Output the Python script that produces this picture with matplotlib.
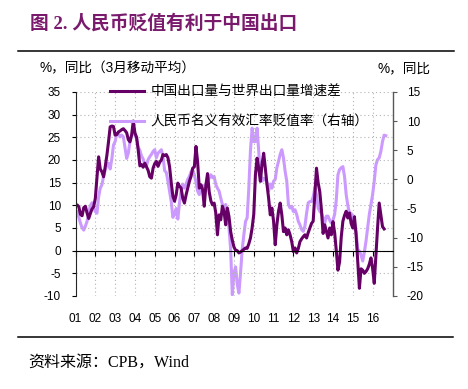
"""Figure 2 - RMB depreciation vs China export growth gap"""
import matplotlib
matplotlib.use('Agg')
import matplotlib.pyplot as plt
from matplotlib.lines import Line2D
import numpy as np

plt.rcParams['font.family'] = ['Liberation Sans', 'Noto Sans CJK SC']
plt.rcParams['axes.unicode_minus'] = False

DARK = '#660066'; LIGHT = '#CC99FF'; TITLE = '#7A1A6C'
GRID = '#B3B3B3'

# ── data (monthly, from Jan 2001) ─────────────────────────────────────────
# China export volume growth minus world export volume growth, 3m avg (left axis)
export_gap = [
    9.8, 10.1, 9.7, 8.0, 7.7, 9.5, 9.8, 8.3, 7.1, 8.2, 9.2, 9.7,            # 2001
    11.5, 16.0, 20.7, 18.0, 17.4, 16.3, 18.5, 21.0, 24.0, 27.3, 27.5, 27.4,  # 2002
    25.5, 25.6, 26.2, 26.4, 26.7, 26.9, 26.5, 26.0, 24.5, 24.0, 25.5, 28.6,  # 2003
    26.0, 25.0, 22.2, 18.7, 19.0, 18.4, 19.3, 18.5, 17.7, 16.3, 16.0, 18.2,  # 2004
    19.2, 19.7, 18.6, 19.5, 20.0, 21.2, 21.0, 21.2, 20.5, 18.5, 15.0, 12.0,  # 2005
    10.9, 12.3, 14.9, 14.2, 13.8, 11.5, 10.5, 12.3, 13.8, 15.3, 16.4, 18.2,  # 2006
    18.5, 23.0, 19.5, 13.8, 14.5, 13.5, 9.8, 14.5, 17.0, 13.0, 11.0, 10.1,   # 2007
    10.5, 8.3, 3.5, 7.9, 6.8, 9.8, 8.6, 5.7, 9.4, 7.5, 4.2, 2.3,             # 2008
    0.8, 0.1, 0.0, -0.5, -0.3, 0.0, 0.3, 0.6, 0.5, 1.5, 2.8, 5.0,            # 2009
    8.0, 16.7, 20.4, 18.2, 15.3, 19.0, 21.5, 18.2, 14.6, 11.6, 7.9, 9.4,     # 2010
    6.5, 1.3, 5.7, 8.7, 10.5, 7.9, 4.2, 5.0, 3.5, 4.6, 3.5, 2.0,             # 2011
    -0.2, 0.6, -0.5, 0.5, 2.0, 2.6, 3.1, 3.5, 2.8, 4.0, 5.0, 6.0,            # 2012
    6.5, 12.5, 18.2, 15.0, 13.0, 9.0, 3.8, 5.7, 4.2, 2.8, 5.0, 3.5,          # 2013
    6.4, 4.0, 0.0, -4.3, -2.5, 3.0, 6.5, 7.8, 8.7, 7.2, 8.3, 6.0,            # 2014
    5.0, 7.5, 3.5, -2.5, -8.3, -4.0, -4.3, -5.0, -4.6, -4.0, -3.0, -1.6,     # 2015
    -3.9, -7.2, -0.9, 5.0, 10.5, 7.9, 5.3, 4.8,                              # 2016
]
# RMB nominal effective exchange rate depreciation rate (right axis)
neer_dep = [
    -6.0, -5.5, -6.5, -7.5, -8.3, -8.7, -8.0, -7.2, -5.8, -4.5, -4.0, -4.8,  # 2001
    -5.5, -5.8, -3.0, -1.5, -0.9, 0.5, 1.6, 2.5, 2.8, 1.8, 3.5, 5.9,         # 2002
    6.5, 7.9, 7.9, 7.3, 7.6, 7.3, 5.5, 3.6, 4.5, 6.5, 7.6, 8.2,              # 2003
    7.6, 7.0, 5.5, 5.0, 4.0, 3.5, 2.5, 2.3, 3.4, 3.9, 4.3, 4.8,              # 2004
    5.1, 3.7, 4.5, 4.8, 5.1, 4.0, 1.5, 1.2, -0.3, -2.0, -3.8, -6.5,          # 2005
    -6.0, -5.0, -6.8, -4.0, -1.8, -0.8, -1.5, -0.8, 0.0, 0.5, 1.3, 1.7,      # 2006
    0.8, -0.5, -2.0, -2.6, -1.5, -1.0, -2.0, -0.9, -0.3, 0.2, 0.8, 0.3,      # 2007
    0.5, -0.9, -1.5, -2.0, -3.2, -4.3, -4.9, -4.3, -6.0, -8.3, -12.0, -19.8, # 2008
    -16.0, -15.0, -18.0, -19.5, -16.0, -12.0, -9.5, -7.2, -6.6, -1.5, 5.0, 8.8,  # 2009
    6.5, 6.5, 8.8, 5.0, 1.0, -0.3, 0.2, 0.0, -0.5, -2.0, -0.8, -1.5,         # 2010
    -0.3, 0.0, 2.0, 3.1, 4.3, 5.1, 3.7, 1.4, -0.3, -4.3, -4.9, -4.6,         # 2011
    -5.5, -5.2, -6.0, -7.2, -7.8, -8.6, -8.9, -8.0, -5.8, -4.0, -3.8, -3.8,  # 2012
    -3.0, -1.5, -2.6, -4.9, -5.5, -5.8, -6.6, -7.5, -6.3, -6.3, -7.0, -7.5,  # 2013
    -7.0, -6.0, -3.5, 0.8, 1.7, 2.0, 2.2, 0.5, -2.6, -4.5, -5.8, -5.8,       # 2014
    -6.8, -7.5, -9.0, -12.0, -12.3, -13.0, -14.0, -12.5, -10.6, -8.3, -6.0, -4.3,  # 2015
    -2.6, -0.3, 2.5, 3.4, 3.7, 4.8, 6.5, 7.6, 7.5,                           # 2016
]
years = list(range(2001, 2017))
year_labels = [f'{y % 100:02d}' for y in years]
series_names = ['中国出口量与世界出口量增速差', '人民币名义有效汇率贬值率（右轴）']

t_gap = 2001 + np.arange(len(export_gap)) / 12
t_neer = 2001 + np.arange(len(neer_dep)) / 12

# ── figure ────────────────────────────────────────────────────────────────
W, H = 468, 389
fig = plt.figure(figsize=(W / 100, H / 100), dpi=100, facecolor='white')
ax = fig.add_axes([75.5 / W, 1 - 296 / H, (393 - 75.5) / W, 204 / H])
ax2 = ax.twinx()

l2, = ax2.plot(t_neer, neer_dep, color=LIGHT, lw=2.2, solid_joinstyle='round')
l1, = ax.plot(t_gap, export_gap, color=DARK, lw=2.2, solid_joinstyle='round')
ax.set_zorder(ax2.get_zorder() + 1)
ax.patch.set_visible(False)

ax.set_xlim(2001, 2017.03)
ax.set_ylim(-10, 35)
ax2.set_ylim(-20, 15)
ax.set_yticks(range(-10, 40, 5))
ax2.set_yticks(range(-20, 20, 5))
ax.set_xticks(years)
ax.set_xticklabels(year_labels)

ax.grid(True, ls=(0, (1, 2.5)), color=GRID, lw=0.8)
ax.set_axisbelow(True)

for s in ['top', 'right']:
    ax.spines[s].set_visible(False)
ax.spines['bottom'].set_position(('data', 0))
ax.spines['bottom'].set_color('black')
ax.spines['left'].set_color('#262626')
for s in ['top', 'left', 'bottom']:
    ax2.spines[s].set_visible(False)
ax2.spines['right'].set_color('#595959')
ax2.spines['right'].set_linewidth(1.0)

ax.tick_params(axis='x', direction='out', length=3.6, width=0.8, pad=41,
               labelsize=8.5, colors='black')
ax.tick_params(axis='y', direction='out', length=3, width=0.8, pad=7.5,
               labelsize=8.5)
ax2.tick_params(axis='y', direction='out', length=3, width=0.8, pad=7,
                labelsize=8.5, color='#595959', labelcolor='black')

ax.legend([l1, l2], series_names, loc='upper left',
          bbox_to_anchor=(110 / W, 1 - 85 / H), bbox_transform=fig.transFigure,
          frameon=False, fontsize=9.8, handlelength=2.5, handletextpad=0.5,
          labelspacing=1.15, borderpad=0, borderaxespad=0)

# ── header / footer texts ─────────────────────────────────────────────────
fig.text(30 / W, 1 - 23.5 / H, '图 2. 人民币贬值有利于中国出口', fontsize=13.5,
         fontweight='bold', color=TITLE, va='center', ha='left',
         family=['Liberation Serif', 'Noto Sans CJK SC'])
fig.add_artist(Line2D([18 / W, 454 / W], [1 - 50.5 / H] * 2, color='black',
                      lw=1.1, transform=fig.transFigure))
fig.text(40 / W, 1 - 68 / H, '%，同比（3月移动平均）', fontsize=9.8, va='center')
fig.text(378 / W, 1 - 68 / H, '%，同比', fontsize=9.8, va='center')
fig.add_artist(Line2D([18 / W, 453 / W], [1 - 337 / H] * 2, color='black',
                      lw=1.1, transform=fig.transFigure))
fig.text(28 / W, 1 - 363 / H, '资料来源：CPB，Wind', fontsize=11.5, va='center',
         family=['Liberation Serif', 'Noto Sans CJK SC'])

fig.savefig('out.png', dpi=100, facecolor='white')
plt.close(fig)
